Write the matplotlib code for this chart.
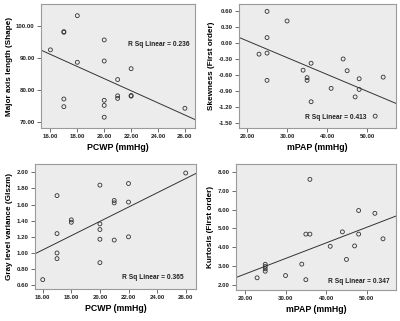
"""
Radiomic features vs haemodynamics: four SPSS-style scatter plots with linear fit.
"""
import numpy as np
import matplotlib
matplotlib.use("Agg")
import matplotlib.pyplot as plt

plt.rcParams["font.family"] = ["Liberation Sans", "DejaVu Sans"]
plt.rcParams["font.weight"] = "bold"

# PCWP panels (top left, bottom left)
pcwp = [16, 17, 17, 17, 17, 18, 18, 20, 20, 20, 20, 20, 21, 21, 21, 22, 22, 22, 26]
major_axis = [92.6, 98.1, 98.3, 77.2, 74.8, 103.3, 88.7, 95.7, 89.1, 76.8, 75.2, 71.5,
              83.3, 78.2, 77.4, 86.7, 78.1, 78.3, 74.3]
gray_var = [0.67, 1.71, 1.24, 1.00, 0.93, 1.41, 1.38, 1.84, 1.36, 1.29, 1.17, 0.88,
            1.65, 1.62, 1.16, 1.86, 1.63, 1.20, 1.99]

# mPAP panels (top right, bottom right)
mpap = [23, 25, 25, 25, 25, 30, 34, 35, 35, 36, 36, 41, 44, 45, 47, 48, 48, 52, 54]
skewness = [-0.21, 0.59, 0.10, -0.19, -0.70, 0.41, -0.51, -0.65, -0.70, -0.38, -1.10,
            -0.85, -0.30, -0.52, -1.01, -0.67, -0.87, -1.37, -0.64]
kurtosis = [2.37, 3.09, 2.97, 2.85, 2.72, 2.49, 3.10, 4.70, 2.27, 7.62, 4.70, 4.05,
            4.82, 3.35, 4.07, 5.96, 4.70, 5.81, 4.45]

r_sq = ["0.236", "0.413", "0.365", "0.347"]

BG = "#ececec"
EDGE = "#9a9a9a"
DARK = "#333333"

fig = plt.figure(figsize=(4.0, 3.21), dpi=100)


def panel(rect, x, y, xlim, ylim, xticks, yticks, xlabel, ylabel, rtxt, rpos):
    ax = fig.add_axes(rect)
    ax.set_facecolor(BG)
    for s in ax.spines.values():
        s.set_color(EDGE)
        s.set_linewidth(0.8)
    ax.scatter(x, y, s=8, facecolors="none", edgecolors=DARK, linewidths=0.6, zorder=3)
    b, a = np.polyfit(x, y, 1)
    xs = np.array(xlim)
    ax.plot(xs, a + b * xs, color=DARK, lw=0.7, zorder=2)
    ax.set_xlim(xlim)
    ax.set_ylim(ylim)
    ax.set_xticks(xticks)
    ax.set_yticks(yticks)
    ax.set_xticklabels([f"{v:.2f}" for v in xticks])
    ax.set_yticklabels([f"{v:.2f}" for v in yticks])
    ax.tick_params(labelsize=4.4, length=3, width=0.6, color="#555555", pad=1.5,
                   labelcolor="#222222")
    ax.set_xlabel(xlabel, fontsize=6.3, fontweight="bold", labelpad=2.5)
    ax.set_ylabel(ylabel, fontsize=5.9, fontweight="bold", labelpad=2.5)
    ax.text(rpos[0], rpos[1], f"R Sq Linear = {rtxt}", transform=ax.transAxes,
            ha="right", va="center", fontsize=4.8, fontweight="bold", color="#222222")
    return ax


panel([0.1025, 0.601, 0.385, 0.386], pcwp, major_axis, (15.3, 26.75), (68.1, 106.9),
      [16, 18, 20, 22, 24, 26], [70, 80, 90, 100],
      "PCWP (mmHg)", "Major axis length (Shape)", r_sq[0], (0.965, 0.677))

panel([0.5975, 0.601, 0.3925, 0.386], mpap, skewness, (18.0, 57.2), (-1.593, 0.725),
      [20, 30, 40, 50], [-1.5, -1.2, -0.9, -0.6, -0.3, 0.0, 0.3, 0.6],
      "mPAP (mmHg)", "Skewness (First order)", r_sq[1], (0.815, 0.089))

panel([0.0875, 0.0997, 0.4025, 0.389], pcwp, gray_var, (15.46, 26.72), (0.554, 2.10),
      [16, 18, 20, 22, 24, 26], [0.6, 0.8, 1.0, 1.2, 1.4, 1.6, 1.8, 2.0],
      "PCWP (mmHg)", "Gray level variance (Glszm)", r_sq[2], (0.925, 0.09))

panel([0.59, 0.0966, 0.40, 0.3925], mpap, kurtosis, (17.8, 57.2), (1.72, 8.44),
      [20, 30, 40, 50], [2, 3, 4, 5, 6, 7, 8],
      "mPAP (mmHg)", "Kurtosis (First order)", r_sq[3], (0.9625, 0.071))

fig.savefig("out.png", dpi=100)
